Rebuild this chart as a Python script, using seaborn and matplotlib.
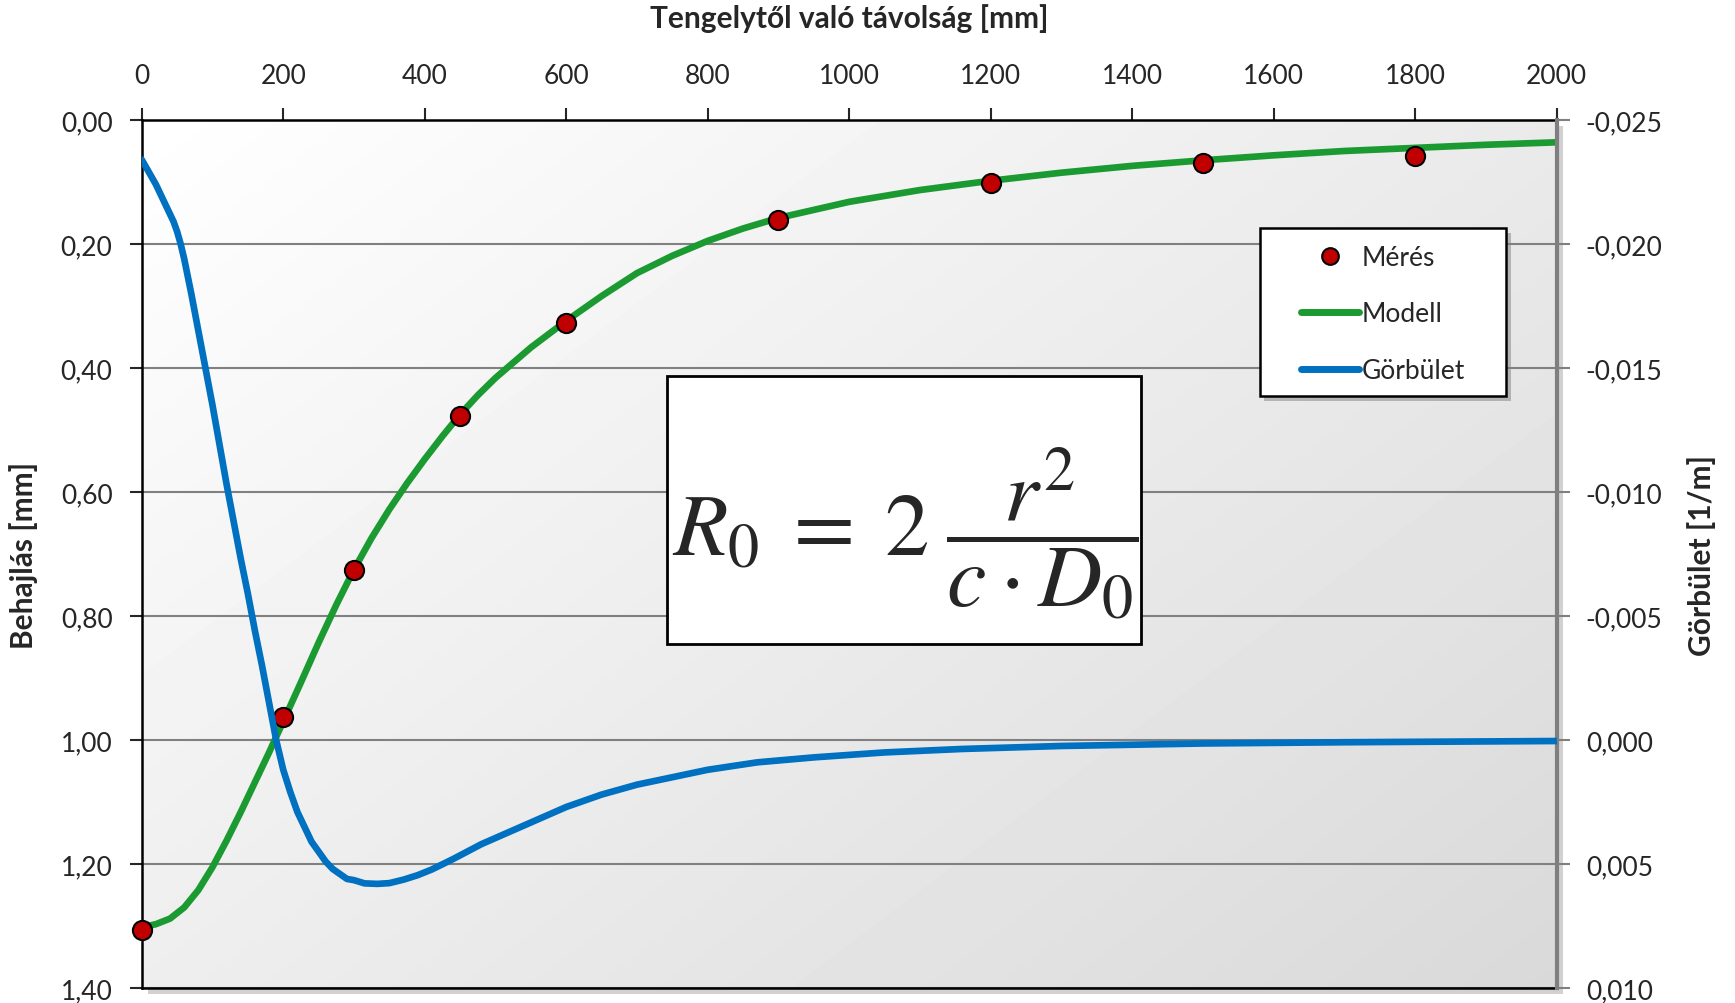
import matplotlib
matplotlib.use('Agg')
import numpy as np
import matplotlib.pyplot as plt
import seaborn as sns
from matplotlib.patches import Rectangle
from matplotlib.lines import Line2D
from matplotlib.ticker import FuncFormatter, MultipleLocator

# mért pontok (behajlás, mm)
meres_x = [0, 200, 300, 450, 600, 900, 1200, 1500, 1800]
meres_y = [1.306, 0.963, 0.725, 0.477, 0.327, 0.161, 0.102, 0.070, 0.058]

# modell görbe (behajlás, mm)
modell_x = [0, 20, 40, 60, 80, 100, 120, 140, 160, 180, 200, 225, 250, 275, 300,
            325, 350, 375, 400, 425, 450, 475, 500, 550, 600, 650, 700, 750, 800,
            850, 900, 1000, 1100, 1200, 1300, 1400, 1500, 1600, 1700, 1800, 1900,
            2000]
modell_y = [1.302, 1.297, 1.288, 1.270, 1.242, 1.205, 1.162, 1.116, 1.068, 1.020,
            0.970, 0.907, 0.843, 0.782, 0.725, 0.674, 0.628, 0.586, 0.547, 0.510,
            0.475, 0.444, 0.416, 0.367, 0.324, 0.284, 0.247, 0.219, 0.195, 0.175,
            0.158, 0.132, 0.113, 0.098, 0.085, 0.074, 0.065, 0.057, 0.050, 0.045,
            0.040, 0.036]

# görbület (1/m)
gorb_x = [0, 10, 20, 30, 40, 45, 50, 55, 60, 65, 70, 80, 90, 100, 110, 120, 130,
          140, 150, 160, 170, 180, 190, 200, 210, 220, 230, 240, 250, 260, 270, 280,
          290, 300, 315, 333, 350, 370, 390, 410, 440, 480, 520, 560, 600, 650, 700,
          750, 800, 870, 950, 1050, 1160, 1300, 1500, 1700, 2000]
gorb_y = [-0.0234, -0.0229, -0.0224, -0.0218, -0.0212, -0.0209, -0.0205, -0.0200,
          -0.0194, -0.0187, -0.0180, -0.0165, -0.0150, -0.0135, -0.0119, -0.0103,
          -0.0088, -0.0073, -0.0059, -0.0044, -0.0030, -0.0015, 0.0000, 0.0012,
          0.0021, 0.0029, 0.0035, 0.0041, 0.0045, 0.0049, 0.0052, 0.0054, 0.0056,
          0.00565, 0.00578, 0.0058, 0.00577, 0.00563, 0.00545, 0.00522, 0.0048,
          0.0042, 0.0037, 0.0032, 0.0027, 0.0022, 0.0018, 0.0015, 0.0012, 0.0009,
          0.0007, 0.0005, 0.00036, 0.00024, 0.00014, 0.00009, 0.00004]

zold = '#1b9a32'
kek = '#0070c0'
piros = '#c00000'

sns.set_style('white')
plt.rcParams['font.family'] = ['Lato', 'DejaVu Sans']
plt.rcParams['mathtext.fontset'] = 'stix'

fig = plt.figure(figsize=(17.35, 10.04), dpi=100)
ax = fig.add_axes([0.0817, 0.0149, 0.8155, 0.8646])

# árnyék a rajzterület mögött
fig.add_artist(Rectangle((0.0817 + 0.0035, 0.0149 - 0.006), 0.8155, 0.8646,
                         transform=fig.transFigure, facecolor='#9a9a9a',
                         alpha=0.45, edgecolor='none', zorder=-1))

# színátmenetes háttér
gx, gy = np.meshgrid(np.linspace(0, 1, 200), np.linspace(0, 1, 200))
grad = 1.0 - 0.15 * (0.55 * gx + 0.45 * gy)
ax.imshow(grad, cmap='gray', vmin=0, vmax=1, extent=[0, 2000, 1.4, 0],
          aspect='auto', interpolation='bicubic', zorder=0)

sns.lineplot(x=modell_x, y=modell_y, ax=ax, color=zold, lw=4.8, sort=False,
             legend=False, zorder=3, solid_joinstyle='round')
sns.scatterplot(x=meres_x, y=meres_y, ax=ax, color=piros, s=190,
                edgecolor='black', linewidth=1.5, legend=False, zorder=4,
                clip_on=False)

ax.set_xlim(0, 2000)
ax.set_ylim(1.4, 0)
ax.xaxis.set_major_locator(MultipleLocator(200))
ax.yaxis.set_major_locator(MultipleLocator(0.2))
ax.yaxis.set_major_formatter(FuncFormatter(lambda v, p: f'{v:.2f}'.replace('.', ',')))
ax.xaxis.tick_top()
ax.set_axisbelow(True)
ax.yaxis.grid(True, color='#808080', lw=1.5)
ax.xaxis.grid(False)
ax.tick_params(axis='x', top=True, bottom=False, labeltop=True, labelbottom=False,
               direction='out', length=9, width=1.5, pad=14, labelsize=19)
ax.tick_params(axis='y', direction='out', length=9, width=1.5, pad=12, labelsize=19,
               left=True)
for s in ['top', 'left', 'bottom']:
    ax.spines[s].set_color('black')
    ax.spines[s].set_linewidth(1.8)
ax.spines['right'].set_visible(False)

ax.set_xlabel('Tengelytől való távolság [mm]', fontsize=21.5, fontweight='bold')
ax.xaxis.set_label_position('top')
ax.xaxis.set_label_coords(0.5, 1.1175)
ax.xaxis.label.set_va('center')
ax.set_ylabel('Behajlás [mm]', fontsize=21.5, fontweight='bold')
ax.yaxis.set_label_coords(-0.0832, 0.5)
ax.yaxis.label.set_va('center')

# jobb oldali tengely: görbület
ax2 = ax.twinx()
sns.lineplot(x=gorb_x, y=gorb_y, ax=ax2, color=kek, lw=4.8, sort=False,
             legend=False, zorder=3, solid_joinstyle='round')
ax2.set_ylim(0.010, -0.025)
ax2.yaxis.set_major_locator(MultipleLocator(0.005))
ax2.yaxis.set_major_formatter(
    FuncFormatter(lambda v, p: f'{round(v, 4) + 0.0:.3f}'.replace('.', ',')))
ax2.tick_params(axis='y', direction='out', length=9, width=1.5, color='#808080',
                pad=12, labelsize=19)
for s in ['top', 'left', 'bottom']:
    ax2.spines[s].set_visible(False)
ax2.spines['right'].set_color('#7f7f7f')
ax2.spines['right'].set_linewidth(3)
ax2.set_ylabel('Görbület [1/m]', fontsize=21.5, fontweight='bold')
ax2.yaxis.set_label_coords(1.1027, 0.5)
ax2.yaxis.label.set_va('center')

# képlet doboz
ax2.add_patch(Rectangle((0.371, 0.396), 0.335, 0.309, transform=ax2.transAxes,
                        facecolor='white', edgecolor='black', lw=2, zorder=5))
ax2.text(0.5394, 0.525, r'$R_0 \;=\; 2\;\dfrac{r^2}{c \cdot D_0}$',
         transform=ax2.transAxes, ha='center', va='center', fontsize=64, zorder=6)

# jelmagyarázat doboz
ax2.add_patch(Rectangle((0.790 + 0.0035, 0.682 - 0.006), 0.174, 0.194,
                        transform=ax2.transAxes, facecolor='#808080', alpha=0.5,
                        edgecolor='none', zorder=6))
ax2.add_patch(Rectangle((0.790, 0.682), 0.174, 0.194, transform=ax2.transAxes,
                        facecolor='white', edgecolor='black', lw=1.8, zorder=7))
handles = [
    Line2D([], [], ls='none', marker='o', markerfacecolor=piros,
           markeredgecolor='black', markersize=12, markeredgewidth=1.5, label='Mérés'),
    Line2D([], [], color=zold, lw=5, solid_capstyle='round', label='Modell'),
    Line2D([], [], color=kek, lw=5, solid_capstyle='round', label='Görbület'),
]
leg = ax2.legend(handles=handles, loc='center', bbox_to_anchor=(0.877, 0.7765),
                 frameon=False, fontsize=19, handlelength=2.2, handletextpad=0.1,
                 labelspacing=1.2)
leg.set_zorder(8)

fig.savefig('out.png', dpi=100)
